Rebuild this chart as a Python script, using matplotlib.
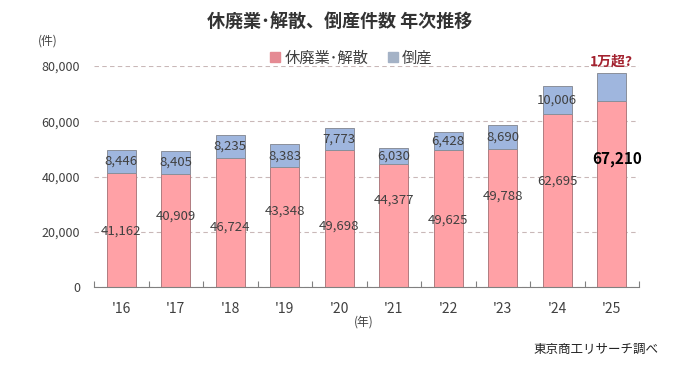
import numpy as np
import matplotlib
matplotlib.use('Agg')
import matplotlib.pyplot as plt
from matplotlib.lines import Line2D

plt.rcParams['font.family'] = ['Noto Sans CJK JP', 'DejaVu Sans']

years = ["'16", "'17", "'18", "'19", "'20", "'21", "'22", "'23", "'24", "'25"]
closures = [41162, 40909, 46724, 43348, 49698, 44377, 49625, 49788, 62695, 67210]
bankrupt = [8446, 8405, 8235, 8383, 7773, 6030, 6428, 8690, 10006, 10300]
bankrupt_labels = ['8,446', '8,405', '8,235', '8,383', '7,773', '6,030', '6,428', '8,690', '10,006', '']
# where the closure labels sit inside the pink bars (fraction of bar height)
closure_label_pos = [0.49, 0.63, 0.46, 0.63, 0.44, 0.71, 0.49, 0.66, 0.61, 0.69]

PINK = '#ffa1a6'
BLUE = '#9fb6de'
TEXT = '#404040'

fig = plt.figure(figsize=(6.84, 3.70), dpi=100)
ax = fig.add_axes([94/684, 1-287/370, 545/684, 221/370])

x = np.arange(len(years))
w = 0.54
ax.bar(x, closures, w, color=PINK, edgecolor='#b07c80', linewidth=0.7, zorder=3)
ax.bar(x, bankrupt, w, bottom=closures, color=BLUE, edgecolor='#8a8f9a', linewidth=0.7, zorder=3)

for i in range(len(years)):
    if i == len(years) - 1:
        ax.text(x[i] + 0.1, closures[i] * closure_label_pos[i], '{:,}'.format(closures[i]),
                ha='center', va='center', fontsize=11, fontweight='bold', color='black', zorder=5)
    else:
        ax.text(x[i], closures[i] * closure_label_pos[i], '{:,}'.format(closures[i]),
                ha='center', va='center', fontsize=9.5, color=TEXT, zorder=5)
    if bankrupt_labels[i]:
        ax.text(x[i], closures[i] + bankrupt[i] / 2, bankrupt_labels[i],
                ha='center', va='center', fontsize=9.5, color=TEXT, zorder=5)

ax.text(x[-1], closures[-1] + bankrupt[-1] + 1500, '1万超?', ha='center', va='bottom',
        fontsize=10, fontweight='bold', color='#a3222f', clip_on=False)

ax.set_xlim(-0.5, len(years) - 0.5)
ax.set_ylim(0, 80000)
ax.set_yticks([0, 20000, 40000, 60000, 80000])
ax.set_yticklabels(['{:,}'.format(v) for v in [0, 20000, 40000, 60000, 80000]])
ax.set_xticks(x)
ax.set_xticklabels(years)
ax.set_xticks(np.arange(-0.5, len(years)), minor=True)
ax.tick_params(axis='x', which='major', length=0, pad=11, labelsize=10, labelcolor=TEXT)
ax.tick_params(axis='x', which='minor', direction='in', length=4, color='#808080', width=0.8)
ax.tick_params(axis='y', length=0, pad=10, labelsize=9, labelcolor=TEXT)

ax.grid(axis='y', linestyle=(0, (4, 3)), color='#c9b8b8', linewidth=0.8, zorder=0)
for s in ['left', 'right', 'top']:
    ax.spines[s].set_visible(False)
ax.spines['bottom'].set_color('#808080')
ax.spines['bottom'].set_zorder(4)

handles = [Line2D([], [], marker='s', linestyle='none', markersize=7, color='#e58a93'),
           Line2D([], [], marker='s', linestyle='none', markersize=7, color='#a4b2c6')]
fig.legend(handles, ['休廃業\uff65解散', '倒産'], loc='center', bbox_to_anchor=(351/684, 1-58/370),
           ncol=2, frameon=False, fontsize=11, handlelength=0.8, handletextpad=0.2,
           columnspacing=1.2, labelcolor=TEXT)

fig.text(340/684, 1-22/370, '休廃業\uff65解散、倒産件数 年次推移', ha='center', va='center',
         fontsize=13, fontweight='bold', color='#333333')
fig.text(48/684, 1-41/370, '(件)', ha='center', va='center', fontsize=8.5, color=TEXT)
fig.text(364/684, 1-322/370, '(年)', ha='center', va='center', fontsize=8.5, color=TEXT)
fig.text(658/684, 1-349/370, '東京商工リサーチ調べ', ha='right', va='center', fontsize=9, color='#222222')

fig.savefig('out.png', dpi=100, facecolor='white')
